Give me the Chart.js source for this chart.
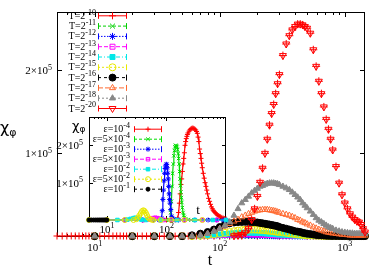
<!DOCTYPE html>
<html>
<head>
<meta charset="utf-8">
<script src="https://cdn.jsdelivr.net/npm/chart.js@4.4.1/dist/chart.umd.min.js"></script>
<style>
  body { margin: 0; background: #fff; }
  #wrap { position: relative; width: 382px; height: 267px; }
  #main { position: absolute; left: 0; top: 0; }
  #inset { position: absolute; left: 55px; top: 112px; }
</style>
</head>
<body>
<div id="wrap">
  <canvas id="main" width="382" height="267"></canvas>
  <canvas id="inset" width="180" height="130"></canvas>
</div>
<script>
// ---------- main plot data (chi values in units of 1000) ----------
const tMain = [10, 20, 30, 40, 50, 60, 70, 80, 90,
  100, 110, 120, 130, 140, 150, 160, 170, 180, 190, 200, 210, 220, 230, 240, 250, 260, 270, 280, 290, 300,
  320, 340, 360, 380, 400, 420, 440, 460, 480, 500,
  530, 560, 590, 620, 650, 680, 710, 740, 770, 800,
  850, 900, 950, 1000, 1050, 1100, 1150, 1200, 1250, 1300, 1350, 1400, 1450];

// T=2^-10 has its own finer time grid: [t, chi]
const T10 = [[5, 0.2], [5.5, 0.2], [6, 0.2], [6.5, 0.3], [7, 0.3], [7.5, 0.3], [8, 0.3], [8.5, 0.3], [9, 0.3], [9.5, 0.3],
  [10, 0.3], [11, 0.3], [12, 0.3], [13, 0.3], [14, 0.3], [15, 0.3], [16, 0.3], [17, 0.2], [18, 0.2], [19, 0.2],
  [20, 0.2], [22, 0.2], [24, 0.2], [26, 0.2], [28, 0.2], [30, 0.1], [33, 0.1], [36, 0.1], [40, 0.1], [44, 0.1],
  [48, 0.1], [52, 0.1], [56, 0.1], [60, 0.1], [65, 0.1], [70, 0.1], [75, 0.1], [80, 0], [90, 0], [100, 0],
  [120, 0], [150, 0], [200, 0], [300, 0], [500, 0], [800, 0], [1200, 0]];

const T11 = [0, 0, 0, 0, 0.1, 0.3, 0.5, 0.6, 0.6,
  0.6, 0.5, 0.5, 0.4, 0.4, 0.3, 0.3, 0.3, 0.2, 0.2, 0.2, 0.2, 0.1, 0.1, 0.1, 0.1, 0.1, 0.1, 0.1, 0.1, 0.1,
  0, 0, 0, 0, 0, 0, 0, 0, 0, 0,
  0, 0, 0, 0, 0, 0, 0, 0, 0, 0,
  0, 0, 0, 0, 0, 0, 0, 0, 0, 0, 0, 0, 0];
const T12 = [0, 0, 0, 0, 0, 0.2, 0.4, 0.6, 0.8,
  1, 1.1, 1.2, 1.2, 1.2, 1.1, 1.1, 1, 1, 0.9, 0.9, 0.8, 0.8, 0.7, 0.7, 0.6, 0.6, 0.5, 0.5, 0.4, 0.4,
  0.3, 0.3, 0.2, 0.2, 0.2, 0.1, 0.1, 0.1, 0.1, 0.1,
  0, 0, 0, 0, 0, 0, 0, 0, 0, 0,
  0, 0, 0, 0, 0, 0, 0, 0, 0, 0, 0, 0, 0];
const T13 = [0, 0, 0, 0, 0, 0, 0.3, 0.6, 1,
  1.3, 1.6, 1.9, 2.1, 2.2, 2.3, 2.3, 2.3, 2.2, 2.1, 2, 1.9, 1.8, 1.7, 1.6, 1.5, 1.4, 1.3, 1.2, 1.1, 1,
  0.9, 0.8, 0.7, 0.6, 0.5, 0.4, 0.3, 0.3, 0.2, 0.2,
  0.1, 0.1, 0.1, 0.1, 0, 0, 0, 0, 0, 0,
  0, 0, 0, 0, 0, 0, 0, 0, 0, 0, 0, 0, 0];
const T14 = [0, 0, 0, 0, 0, 0, 0.5, 1, 1.5,
  2, 2.6, 3.2, 3.6, 4, 4.2, 4.3, 4.3, 4.2, 4.1, 4, 3.8, 3.6, 3.4, 3.2, 3, 2.8, 2.6, 2.4, 2.2, 2,
  1.8, 1.5, 1.3, 1.1, 0.9, 0.8, 0.6, 0.5, 0.4, 0.3,
  0.3, 0.2, 0.2, 0.1, 0.1, 0.1, 0.1, 0, 0, 0,
  0, 0, 0, 0, 0, 0, 0, 0, 0, 0, 0, 0, 0];
const T15 = [0, 0, 0, 0, 0, 0, 0.5, 1, 2,
  3, 4, 5, 6, 6.8, 7.3, 7.7, 8, 8, 8, 7.8, 7.6, 7.4, 7.1, 6.8, 6.5, 6.2, 5.9, 5.6, 5.3, 5,
  4.5, 4, 3.5, 3, 2.6, 2.2, 1.9, 1.6, 1.3, 1.1,
  0.9, 0.7, 0.6, 0.5, 0.4, 0.3, 0.3, 0.2, 0.2, 0.2,
  0.1, 0.1, 0.1, 0.1, 0.1, 0.1, 0.1, 0.1, 0.1, 0.1, 0.1, 0.1, 0.1];
const T16 = [0, 0, 0, 0, 0, 1, 3, 5, 8,
  11, 14, 15.5, 16.5, 17, 17.2, 17.3, 17.2, 17, 16.8, 16.5, 16, 15.5, 15, 14.5, 14, 13.5, 13, 12.5, 12, 11,
  10, 9, 8, 7, 6, 5.5, 5, 4, 3.5, 3,
  2.5, 2, 1.5, 1.2, 1, 0.8, 0.6, 0.5, 0.4, 0.3,
  0.2, 0.2, 0.1, 0.1, 0.1, 0.1, 0.1, 0.1, 0.1, 0.1, 0.1, 0.1, 0.1];
const T17 = [0, 0, 0, 0, 0, 0, 1, 3, 6,
  9, 12, 15, 18, 20, 23, 25, 27, 28.5, 30, 31, 31.5, 32, 32, 32, 31.5, 31, 30.5, 30, 29, 28.5,
  27, 26, 25, 23.5, 22, 20, 19, 17, 16, 14.5,
  13, 11, 9.5, 8, 7, 6, 5, 4.5, 4, 3.5,
  3, 2.5, 2, 2, 1.5, 1, 1, 1, 1, 1, 1, 1, 1];
const T18 = [0, 0, 0, 0, 0, 0, 1, 3, 6,
  9, 13, 17, 25, 33, 40, 44, 48, 52, 55, 57.5, 60, 61, 62.5, 63.5, 64, 64, 64, 63.5, 63, 62,
  60, 58, 56, 53, 50, 47, 44, 40, 37, 34,
  30, 26, 22, 19, 17, 15, 13, 11, 10, 9,
  7, 6, 5, 4.5, 4, 3.5, 3.5, 3, 3, 3, 3, 3, 3];
// the T=2^-20 run has no points before t=130
const T20 = [null, null, null, null, null, null, null, null, null,
  null, null, null, 0.5, 1, 2, 4, 9, 20, 33, 48, 65, 82, 100, 117, 134, 148, 159, 172, 184, 195,
  218, 232, 242, 249, 253, 256, 256, 255, 253, 251,
  245, 225, 205, 187, 172, 156, 141, 129, 117, 104,
  84, 64, 50, 40, 33, 27, 23, 20, 18, 17, 14, 9, 5];

const mainExp = ['-10', '-11', '-12', '-13', '-14', '-15', '-16', '-17', '-18', '-20'];

// ---------- inset data: [t, chi] in units of 1000 ----------
const epsLabels = [['10', '-4'], ['5×10', '-4'], ['10', '-3'], ['5×10', '-3'], ['10', '-2'], ['5×10', '-2'], ['10', '-1']];
const eps1e4 = [[5, 0], [10, 0], [20, 0], [40, 0], [60, 0], [80, 0], [100, 0], [120, 0], [140, 0],
  [150, 1], [155, 5], [160, 20], [165, 45], [170, 70], [175, 95], [180, 110], [185, 130], [190, 150], [195, 165],
  [200, 180], [205, 200], [210, 210], [215, 218], [220, 224], [225, 229], [230, 233], [240, 238], [250, 242],
  [260, 245], [270, 246], [280, 246], [290, 245], [300, 243], [310, 241], [320, 237], [330, 232], [340, 222],
  [350, 210], [360, 190], [370, 178], [380, 165], [390, 152], [400, 140], [415, 125], [430, 112], [445, 100],
  [460, 90], [475, 80], [490, 70], [510, 58], [530, 50], [550, 42], [570, 35], [590, 30], [610, 26], [630, 23],
  [655, 20], [680, 17], [710, 14], [740, 12], [770, 10], [800, 9], [850, 7], [900, 5], [950, 4], [1000, 3]];
const eps5e4 = [[5, 0], [20, 0], [50, 0], [80, 0], [100, 0], [110, 0], [115, 1], [118, 20], [121, 50], [124, 90],
  [127, 125], [130, 150], [133, 172], [136, 186], [139, 196], [142, 200], [145, 199], [148, 197], [151, 195],
  [154, 188], [157, 178], [160, 165], [163, 150], [166, 130], [169, 110], [172, 92], [175, 75], [178, 60],
  [181, 47], [185, 33], [190, 20], [195, 12], [200, 7], [210, 3], [230, 1], [260, 0], [300, 0], [400, 0], [600, 0]];
const eps1e3 = [[5, 0], [20, 0], [40, 0], [60, 0], [75, 0], [80, 1], [83, 5], [85, 25], [87, 55], [89, 80],
  [91, 105], [93, 125], [95, 138], [97, 145], [99, 149], [101, 149], [103, 140], [105, 125], [107, 110],
  [109, 90], [111, 70], [113, 55], [115, 45], [118, 28], [122, 10], [126, 4], [130, 2], [140, 1], [160, 0],
  [200, 0], [300, 0], [500, 0], [700, 0], [900, 0], [1000, 0]];
const eps5e3 = [[5, 0], [20, 0], [40, 0], [50, 1], [55, 3], [60, 5], [65, 6], [70, 5], [75, 3], [80, 1],
  [90, 0], [120, 0], [200, 0], [400, 0], [700, 0]];
const eps1e2 = [[5, 0], [15, 0], [22, 1], [25, 3], [28, 5], [30, 6], [32, 5], [35, 3], [38, 1], [45, 0],
  [80, 0], [150, 0], [300, 0], [600, 0], [1000, 0]];
const eps5e2 = [[5, 0], [10, 0], [20, 0], [28, 0], [31, 2], [33, 6], [35, 12], [37, 18], [39, 24], [41, 26],
  [43, 24], [45, 19], [47, 13], [49, 7], [52, 3], [56, 1], [60, 0], [80, 0], [120, 0], [200, 0], [400, 0]];
const eps1e1 = [[5, 0], [5.5, 0], [6, 0], [6.5, 0], [7, 0], [7.5, 0], [8, 0], [8.5, 0], [9, 0], [9.5, 0], [10, 0]];

// tick labels
const xTickVals = [10, 100, 1000];
const xTickExp = ['1', '2', '3'];
const yTickVals = [100000, 200000];
const yTickText = [['1×10', '5'], ['2×10', '5']];
const insetXTickVals = [10, 100];
const insetXTickExp = ['1', '2'];

// ---------- styles ----------
const SERIF = '"Liberation Serif", "Times New Roman", serif';
const SANS = '"DejaVu Sans", sans-serif';

const mainStyle = [
  { c: '#ff0000', ps: 'cross', r: 3.5, fill: false, dash: [] },
  { c: '#00d000', ps: 'crossRot', r: 3.5, fill: false, dash: [3, 2] },
  { c: '#0000ff', ps: 'star', r: 3.5, fill: false, dash: [1.5, 1.5] },
  { c: '#ff00ff', ps: 'rect', r: 3.5, fill: false, dash: [4, 2] },
  { c: '#00e8e8', ps: 'rect', r: 3.5, fill: true, dash: [4, 2, 1, 2] },
  { c: '#e8e800', ps: 'circle', r: 3.5, fill: false, dash: [2, 2] },
  { c: '#000000', ps: 'circle', r: 3.5, fill: true, dash: [3, 3] },
  { c: '#ff6a30', ps: 'triangle', r: 3.5, fill: false, dash: [5, 2] },
  { c: '#888888', ps: 'triangle', r: 3.5, fill: true, dash: [2, 2] },
  { c: '#ff0000', ps: 'triangle', r: 4, rot: 180, fill: false, dash: [] }
];
const insetStyle = [
  { c: '#ff0000', ps: 'cross', r: 2.5, fill: false, dash: [] },
  { c: '#00dd00', ps: 'crossRot', r: 2.5, fill: false, dash: [3, 2] },
  { c: '#0000ff', ps: 'star', r: 2.5, fill: false, dash: [1.5, 1.5] },
  { c: '#ff00ff', ps: 'rect', r: 2.5, fill: false, dash: [4, 2] },
  { c: '#00e8e8', ps: 'rect', r: 2.5, fill: true, dash: [4, 2, 1, 2] },
  { c: '#e8e800', ps: 'circle', r: 2.5, fill: false, dash: [2, 2] },
  { c: '#000000', ps: 'circle', r: 2, fill: true, dash: [3, 3] }
];

// ---------- helpers ----------
function supText(ctx, base, sup, x, y, size, align, supScale) {
  const ss = Math.round(size * (supScale || 0.72));
  ctx.font = size + 'px ' + SERIF;
  const w1 = ctx.measureText(base).width;
  ctx.font = ss + 'px ' + SERIF;
  const w2 = ctx.measureText(sup).width;
  let x0 = x;
  if (align === 'right') x0 = x - w1 - w2;
  if (align === 'center') x0 = x - (w1 + w2) / 2;
  ctx.textAlign = 'left';
  ctx.textBaseline = 'alphabetic';
  ctx.fillStyle = '#000';
  ctx.font = size + 'px ' + SERIF;
  ctx.fillText(base, x0, y);
  ctx.font = ss + 'px ' + SERIF;
  ctx.fillText(sup, x0 + w1, y - size * 0.42);
}

function chiPhi(ctx, x, y, s1, s2) {
  ctx.fillStyle = '#000';
  ctx.textAlign = 'left';
  ctx.textBaseline = 'alphabetic';
  ctx.font = s1 + 'px ' + SANS;
  ctx.fillText('χ', x, y);
  const w = ctx.measureText('χ').width;
  ctx.font = s2 + 'px ' + SANS;
  ctx.fillText('φ', x + w, y + s2 * 0.25);
}

function marker(ctx, st, x, y) {
  ctx.strokeStyle = st.c;
  ctx.fillStyle = st.fill ? st.c : 'rgba(0,0,0,0)';
  ctx.lineWidth = 1;
  ctx.setLineDash([]);
  if (Chart.helpers && Chart.helpers.drawPoint) {
    Chart.helpers.drawPoint(ctx, { pointStyle: st.ps, radius: st.r, rotation: st.rot || 0, borderWidth: 1 }, x, y);
  }
}

function legendSample(ctx, st, x0, x1, yc) {
  ctx.save();
  ctx.strokeStyle = st.c;
  ctx.lineWidth = 1;
  ctx.setLineDash(st.dash);
  ctx.beginPath();
  ctx.moveTo(x0, yc + 0.5);
  ctx.lineTo(x1, yc + 0.5);
  ctx.stroke();
  ctx.setLineDash([]);
  ctx.beginPath();
  ctx.moveTo(x0 + 0.5, yc - 2.5); ctx.lineTo(x0 + 0.5, yc + 3.5);
  ctx.moveTo(x1 - 0.5, yc - 2.5); ctx.lineTo(x1 - 0.5, yc + 3.5);
  ctx.stroke();
  marker(ctx, st, (x0 + x1) / 2, yc + 0.5);
  ctx.restore();
}

function minorLogTicks(min, max) {
  const out = [];
  for (let d = 1; d <= 1000; d *= 10) {
    for (let k = 2; k <= 9; k++) {
      const v = k * d;
      if (v > min && v < max) out.push(v);
    }
  }
  return out;
}

function drawFrame(chart, xMaj, yMaj, majLen, minLen) {
  const { ctx, chartArea: a } = chart;
  const x = chart.scales.x, y = chart.scales.y;
  ctx.save();
  ctx.strokeStyle = '#000';
  ctx.lineWidth = 1;
  ctx.setLineDash([]);
  ctx.strokeRect(a.left + 0.5, a.top + 0.5, a.right - a.left - 1, a.bottom - a.top - 1);
  ctx.beginPath();
  const vt = (v, len) => {
    const px = Math.round(x.getPixelForValue(v)) + 0.5;
    ctx.moveTo(px, a.bottom); ctx.lineTo(px, a.bottom - len);
    ctx.moveTo(px, a.top); ctx.lineTo(px, a.top + len);
  };
  xMaj.forEach(v => vt(v, majLen));
  minorLogTicks(x.min, x.max).forEach(v => vt(v, minLen));
  yMaj.forEach(v => {
    const py = Math.round(y.getPixelForValue(v)) + 0.5;
    ctx.moveTo(a.left, py); ctx.lineTo(a.left + majLen, py);
    ctx.moveTo(a.right, py); ctx.lineTo(a.right - majLen, py);
  });
  ctx.stroke();
  ctx.restore();
}

function buildSet(points, st, order) {
  return {
    data: points,
    showLine: false,
    pointStyle: st.ps,
    pointRadius: st.r,
    pointRotation: st.rot || 0,
    pointBorderWidth: 1,
    pointBorderColor: st.c,
    pointBackgroundColor: st.fill ? st.c : 'rgba(0,0,0,0)',
    borderColor: st.c,
    clip: false,
    order: order
  };
}

function onGrid(vals) {
  return tMain.map((t, j) => ({ x: t, y: vals[j] == null ? null : vals[j] * 1000 }));
}

// ---------- main chart ----------
const mainSeries = [T11, T12, T13, T14, T15, T16, T17, T18, T20];
const mainSets = [buildSet(T10.map(p => ({ x: p[0], y: p[1] * 1000 })), mainStyle[0], 0)];
mainSeries.forEach((vals, i) => {
  mainSets.push(buildSet(onGrid(vals), mainStyle[i + 1], -(i + 1)));
});
// error bars of the T=2^-20 run, drawn as crosses on top
mainSets.push(buildSet(onGrid(T20), { c: '#ff0000', ps: 'cross', r: 4, fill: false }, -20));

const mainDecor = {
  id: 'mainDecor',
  beforeDatasetsDraw(chart) {
    drawFrame(chart, xTickVals, yTickVals, 5, 3);
  },
  afterDraw(chart) {
    const { ctx } = chart;
    const x = chart.scales.x, y = chart.scales.y;
    ctx.save();
    xTickVals.forEach((v, i) => supText(ctx, '10', xTickExp[i], x.getPixelForValue(v), 251, 11, 'center'));
    yTickVals.forEach((v, i) => supText(ctx, yTickText[i][0], yTickText[i][1], 52, y.getPixelForValue(v) + 4, 11, 'right'));
    ctx.font = '16px ' + SERIF;
    ctx.textAlign = 'center';
    ctx.fillStyle = '#000';
    ctx.fillText('t', 210, 265);
    chiPhi(ctx, 0, 133, 16, 11);
    mainExp.forEach((e, i) => {
      const yc = 15.3 + i * 10.3;
      supText(ctx, 'T=2', e, 96, yc + 3.5, 10, 'right', 0.8);
      legendSample(ctx, mainStyle[i], 98, 127, yc);
    });
    ctx.restore();
  }
};

new Chart(document.getElementById('main'), {
  type: 'scatter',
  data: { datasets: mainSets },
  options: {
    responsive: false,
    animation: false,
    events: [],
    layout: { padding: { left: 57, top: 12, right: 17, bottom: 30 } },
    scales: {
      x: { type: 'logarithmic', min: 5, max: 1450, display: false },
      y: { type: 'linear', min: -1000, max: 270600, display: false }
    },
    plugins: { legend: { display: false }, tooltip: { enabled: false } }
  },
  plugins: [mainDecor]
});

// ---------- inset chart ----------
const insetSeries = [eps1e4, eps5e4, eps1e3, eps5e3, eps1e2, eps5e2, eps1e1];
const insetSets = insetSeries.map((pts, i) => {
  const s = buildSet(pts.map(p => ({ x: p[0], y: p[1] * 1000 })), insetStyle[i], -i);
  s.showLine = true;
  s.borderWidth = 1.2;
  return s;
});

const insetDecor = {
  id: 'insetDecor',
  beforeDatasetsDraw(chart) {
    drawFrame(chart, [10, 100], yTickVals, 4, 2);
  },
  afterDraw(chart) {
    const { ctx } = chart;
    const x = chart.scales.x, y = chart.scales.y;
    ctx.save();
    insetXTickVals.forEach((v, i) => supText(ctx, '10', insetXTickExp[i], x.getPixelForValue(v), 121, 11, 'center'));
    yTickVals.forEach((v, i) => supText(ctx, yTickText[i][0], yTickText[i][1], 28, y.getPixelForValue(v) + 4, 11, 'right'));
    ctx.font = '13px ' + SERIF;
    ctx.textAlign = 'center';
    ctx.fillStyle = '#000';
    ctx.fillText('t', 143, 102);
    chiPhi(ctx, 17, 18, 13, 9);
    epsLabels.forEach((lab, i) => {
      const yc = 16.7 + i * 10;
      supText(ctx, 'ε=' + lab[0], lab[1], 75, yc + 3.5, 10, 'right', 0.8);
      legendSample(ctx, insetStyle[i], 79, 107, yc);
    });
    ctx.restore();
  }
};

new Chart(document.getElementById('inset'), {
  type: 'scatter',
  data: { datasets: insetSets },
  options: {
    responsive: false,
    animation: false,
    events: [],
    layout: { padding: { left: 34, top: 5, right: 9, bottom: 22 } },
    scales: {
      x: { type: 'logarithmic', min: 5, max: 1000, display: false },
      y: { type: 'linear', min: 0, max: 275800, display: false }
    },
    plugins: { legend: { display: false }, tooltip: { enabled: false } }
  },
  plugins: [insetDecor]
});
</script>
</body>
</html>
